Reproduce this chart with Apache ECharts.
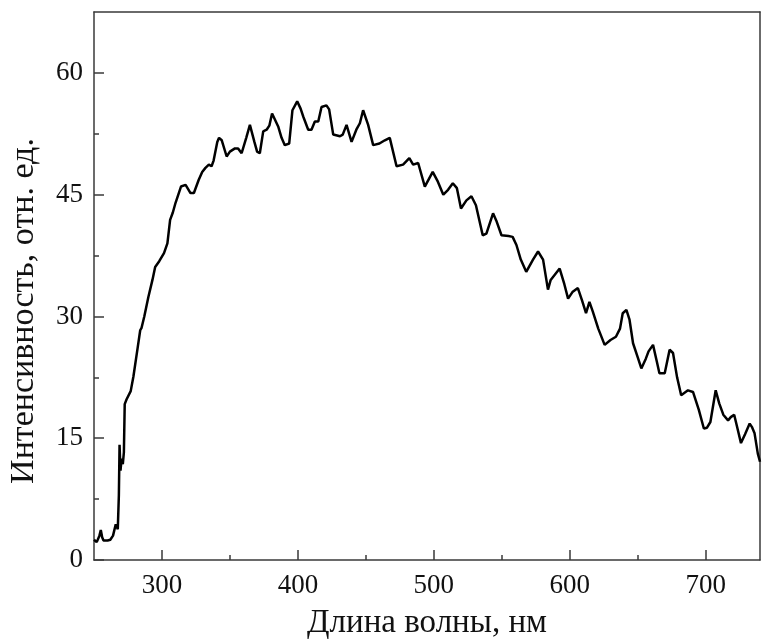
<!DOCTYPE html>
<html>
<head>
<meta charset="utf-8">
<script src="https://cdn.jsdelivr.net/npm/echarts@6/dist/echarts.min.js"></script>
<style>
html,body{margin:0;padding:0;background:#fff;}
#c{width:763px;height:641px;}
</style>
</head>
<body>
<div id="c"></div>
<script>
const wavelength = [250,252,254,255,256,257,260,262,264,266,267.5,268.3,268.8,269.5,270.3,271.2,272,272.6,274,277,279,282,284,285,287,290,293,295,298,301.5,304,306,308,310,314,317.4,321,323.5,327,329.6,332,334.5,336.5,338,340.7,342,344,347.6,350,353.7,356,358.6,362,364.7,368,370,372,374.5,377,379,381,383,385.5,388,390.4,393.6,396,399.5,402,404,407.6,410,412.5,415,417.4,421,423,426,431,433,435.8,439.5,443,445.6,448,451.7,455.4,460,464,467.6,472.6,477.4,482,484.8,488.5,493.4,499.2,503,507,510.5,514,517,520,524,527.7,531,536,538.7,543.6,546,549.8,555,558,560.8,564,568,573,576.7,580.4,584,586,592.6,596,598.8,602,606,609,612,614.5,617,621,625.7,630,634,637,639,641.7,644,646.6,650,652.7,656,658,661.3,664,666,669.9,673.5,676,679,682,687,690.7,695,698.7,701,703.5,707.4,710,713,716.5,718.5,721,723,726,729,732.4,734,736,738.4,740];
const intensity = [2.5,2.2,3.0,3.7,2.8,2.4,2.4,2.5,3.0,4.4,3.8,8,14.2,11,12.5,11.8,13.3,19.2,19.8,20.8,22.6,26,28.3,28.6,30,32.4,34.5,36.1,36.8,37.8,39,41.9,42.8,44,46,46.2,45.2,45.2,46.8,47.8,48.3,48.7,48.5,49.2,51.5,52.0,51.7,49.7,50.3,50.7,50.7,50.1,52,53.6,51.5,50.3,50.1,52.8,53,53.5,55,54.3,53.4,52,51.1,51.3,55.4,56.5,55.6,54.6,53,53,54,54,55.8,56,55.5,52.4,52.2,52.4,53.6,51.5,53,53.8,55.4,53.6,51.1,51.3,51.7,52,48.5,48.7,49.5,48.7,48.9,46,47.8,46.6,45,45.6,46.4,45.8,43.3,44.3,44.8,43.7,40,40.2,42.7,41.8,40,39.9,39.8,38.8,37,35.5,37,38,37,33.3,34.5,35.9,34,32.2,33,33.5,32,30.4,31.8,30.6,28.5,26.5,27.1,27.5,28.5,30.4,30.8,29.6,26.7,25,23.6,24.8,25.7,26.5,24.5,23,23,25.9,25.5,22.5,20.3,20.9,20.7,18.5,16.2,16.3,17,20.9,19.3,17.9,17.2,17.6,17.9,16.5,14.4,15.5,16.8,16.4,15.6,13.1,12.1];
const xMajorTicks = [300,400,500,600,700];
const xMinorTicks = [350,450,550,650];
const yMajorTicks = [0,15,30,45,60];
const yMinorTicks = [7.5,22.5,37.5,52.5];
const xTitle = 'Длина волны, нм';
const yTitle = 'Интенсивность, отн. ед.';

const FONT = 'Liberation Serif';
const AXC = '#3a3a3a';
const X_MIN = 250, X_MAX = 740, Y_MIN = 0, Y_MAX = 67.5;

const data = wavelength.map((w,i)=>[w,intensity[i]]);
const chart = echarts.init(document.getElementById('c'), null, {renderer:'canvas'});
const lineStyle = {color:AXC, width:1.5};
chart.setOption({
  animation:false,
  backgroundColor:'#fff',
  grid:{left:94, right:3, top:12, bottom:81, containLabel:false, outerBoundsMode:'none'},
  xAxis:[
    {type:'value', position:'bottom', min:X_MIN, max:X_MAX, interval:50,
     axisLine:{show:true, onZero:false, lineStyle},
     axisTick:{show:true, inside:true, length:10, lineStyle, customValues:xMajorTicks},
     axisLabel:{show:true, customValues:xMajorTicks, color:'#111', fontFamily:FONT, fontSize:27, margin:12},
     splitLine:{show:false},
     name:xTitle, nameLocation:'middle', nameGap:47,
     nameTextStyle:{color:'#111', fontFamily:FONT, fontSize:33}},
    {type:'value', position:'top', min:X_MIN, max:X_MAX, interval:50,
     axisLine:{show:true, onZero:false, lineStyle}, axisTick:{show:false}, axisLabel:{show:false}, splitLine:{show:false}},
    {type:'value', position:'bottom', min:X_MIN, max:X_MAX, interval:50,
     axisLine:{show:false, onZero:false}, axisTick:{show:true, inside:true, length:5, lineStyle, customValues:xMinorTicks},
     axisLabel:{show:false}, splitLine:{show:false}}
  ],
  yAxis:[
    {type:'value', position:'left', min:Y_MIN, max:Y_MAX, interval:15,
     axisLine:{show:true, onZero:false, lineStyle},
     axisTick:{show:true, inside:true, length:10, lineStyle, customValues:yMajorTicks},
     axisLabel:{show:true, customValues:yMajorTicks, color:'#111', fontFamily:FONT, fontSize:27, margin:11},
     splitLine:{show:false},
     name:yTitle, nameLocation:'middle', nameGap:53,
     nameTextStyle:{color:'#111', fontFamily:FONT, fontSize:34, padding:[0,50,0,0]}},
    {type:'value', position:'right', min:Y_MIN, max:Y_MAX, interval:15,
     axisLine:{show:true, onZero:false, lineStyle}, axisTick:{show:false}, axisLabel:{show:false}, splitLine:{show:false}},
    {type:'value', position:'left', min:Y_MIN, max:Y_MAX, interval:7.5,
     axisLine:{show:false, onZero:false}, axisTick:{show:true, inside:true, length:5, lineStyle, customValues:yMinorTicks},
     axisLabel:{show:false}, splitLine:{show:false}}
  ],
  series:[{
    type:'line', xAxisIndex:0, yAxisIndex:0, data:data,
    showSymbol:false, symbol:'none',
    lineStyle:{color:'#000', width:2.5},
    clip:true
  }]
});
</script>
</body>
</html>
